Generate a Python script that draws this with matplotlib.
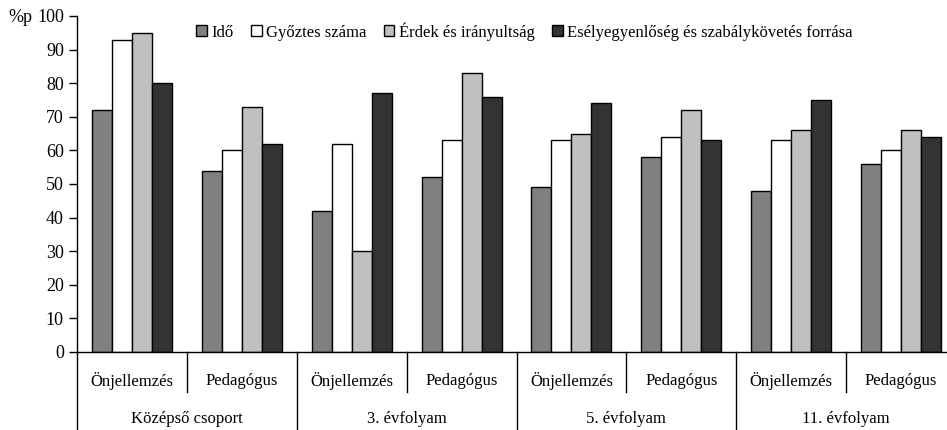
import matplotlib
matplotlib.use("Agg")
import matplotlib.pyplot as plt
from matplotlib.patches import Patch
import matplotlib.transforms as mtransforms
import numpy as np

plt.rcParams['font.family'] = ['Liberation Serif', 'DejaVu Serif']

groups = ["Középső csoport", "3. évfolyam", "5. évfolyam", "11. évfolyam"]
subgroups = ["Önjellemzés", "Pedagógus"]
series_names = ["Idő", "Győztes száma", "Érdek és irányultság",
                "Esélyegyenlőség és szabálykövetés forrása"]
ido = [72, 54, 42, 52, 49, 58, 48, 56]
gyoztes = [93, 60, 62, 63, 63, 64, 63, 60]
erdek = [95, 73, 30, 83, 65, 72, 66, 66]
esely = [80, 62, 77, 76, 74, 63, 75, 64]
yticks = list(range(0, 101, 10))

colors = ["#808080", "#ffffff", "#c0c0c0", "#333333"]
series = [ido, gyoztes, erdek, esely]

W, H = 947, 430
fig = plt.figure(figsize=(W / 100, H / 100), dpi=100)
left, right, top, bottom = 77, 956, 16, 352
ax = fig.add_axes([left / W, 1 - bottom / H, (right - left) / W, (bottom - top) / H])

n = len(ido)
x = np.arange(n) + 0.5
bw = 0.182
for k, (vals, c) in enumerate(zip(series, colors)):
    ax.bar(x + (k - 1.5) * bw, vals, bw, color=c, edgecolor="black", linewidth=1.0,
           label=series_names[k], zorder=2)

ax.set_xlim(0, n)
ax.set_ylim(0, 100)
ax.set_yticks(yticks)
ax.set_yticklabels([str(t) for t in yticks], fontsize=13)
ax.tick_params(axis='y', direction='out', length=6, width=1, pad=3.5)
ax.set_xticks([])
for s in ["top", "right"]:
    ax.spines[s].set_visible(False)
ax.spines["left"].set_linewidth(1)
ax.spines["bottom"].set_linewidth(1)

trans = mtransforms.blended_transform_factory(ax.transData, ax.transAxes)
ph = bottom - top
sub_depth = -40 / ph
main_depth = -80 / ph
for i in range(n + 1):
    d = main_depth if i % 2 == 0 else sub_depth
    ax.plot([i, i], [0, d], color="black", lw=1, transform=trans, clip_on=False)

for i in range(n):
    ax.text(i + 0.5, -28.7 / ph, subgroups[i % 2], transform=trans, ha="center",
            va="center", fontsize=12)
for g in range(len(groups)):
    ax.text(2 * g + 1, -67 / ph, groups[g], transform=trans, ha="center",
            va="center", fontsize=12)

fig.text(8 / W, 1 - 17.5 / H, "%p", ha="left", va="center", fontsize=13)

handles = [Patch(facecolor=c, edgecolor="black", linewidth=1) for c in colors]
fig.legend(handles, series_names, loc="center left",
           bbox_to_anchor=(196 / W, 1 - 31.5 / H), ncol=4, frameon=False,
           fontsize=12, handlelength=0.65, handleheight=0.65, handletextpad=0.25,
           columnspacing=1.05, borderpad=0, borderaxespad=0)

fig.savefig("out.png", dpi=100)
